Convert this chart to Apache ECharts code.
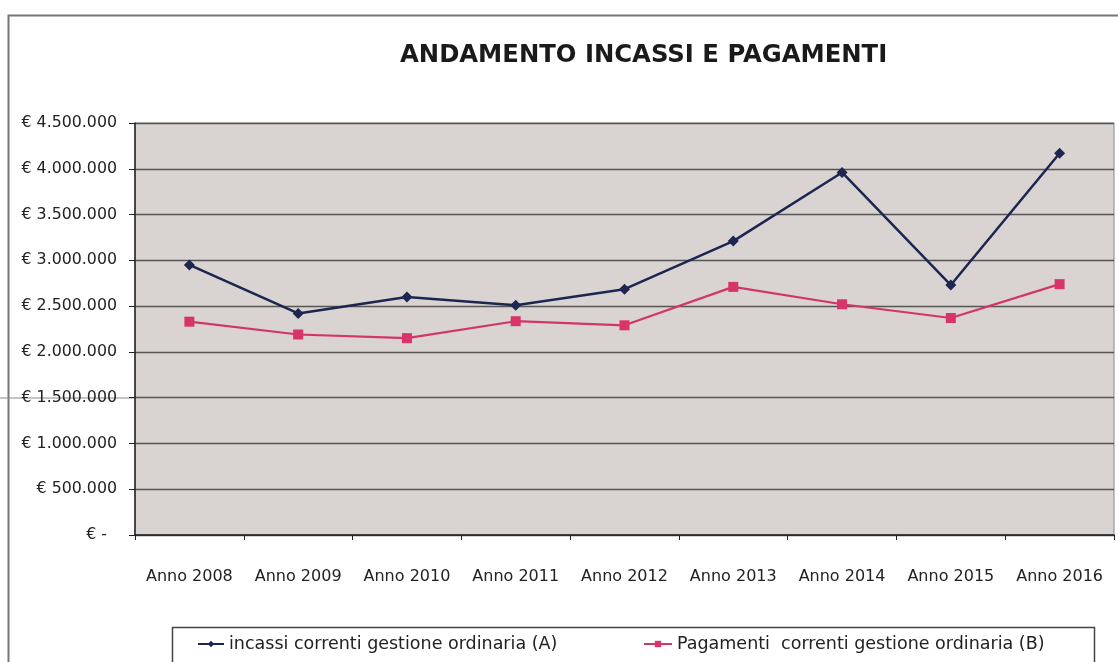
<!DOCTYPE html>
<html>
<head>
<meta charset="utf-8">
<script src="https://cdn.jsdelivr.net/npm/echarts@6/dist/echarts.min.js"></script>
<style>
html,body{margin:0;padding:0;background:#fff;}
#c{width:1118px;height:662px;}
</style>
</head>
<body>
<div id="c"></div>
<script>
var categories = ['Anno 2008','Anno 2009','Anno 2010','Anno 2011','Anno 2012','Anno 2013','Anno 2014','Anno 2015','Anno 2016'];
var incassi = [2950000, 2420000, 2600000, 2510000, 2685000, 3210000, 3960000, 2730000, 4170000];
var pagamenti = [2330000, 2190000, 2150000, 2335000, 2290000, 2710000, 2520000, 2370000, 2740000];
var seriesNames = ['incassi correnti gestione ordinaria (A)', 'Pagamenti  correnti gestione ordinaria (B)'];
var titleText = 'ANDAMENTO INCASSI E PAGAMENTI';

var chart = echarts.init(document.getElementById('c'), null, {renderer:'canvas'});
var font = 'DejaVu Sans, Liberation Sans, sans-serif';
function fmt(v){
  if (v === 0) return '€ -  ';
  var s = String(Math.round(v)).replace(/\B(?=(\d{3})+(?!\d))/g, '.');
  return '€ ' + s;
}
var legendText = {fontFamily: font, fontSize: 17.5, color: '#222'};
chart.setOption({
  backgroundColor: '#ffffff',
  animation: false,
  title: {
    text: titleText,
    left: 400,
    top: 44,
    textStyle: {fontFamily: font, fontSize: 24.3, fontWeight: 'bold', color: '#1a1a1a'},
    padding: 0,
    itemGap: 0
  },
  graphic: [
    {type:'rect', shape:{x:8.5, y:15.5, width:1130, height:700}, style:{fill:null, stroke:'#777', lineWidth:2}, silent:true, z:0},
    {type:'rect', shape:{x:172.5, y:627.5, width:922, height:60}, style:{fill:null, stroke:'#444', lineWidth:1.5}, silent:true, z:0},
    {type:'line', shape:{x1:0, y1:398, x2:135, y2:398}, style:{stroke:'#888', lineWidth:1}, silent:true, z:0}
  ],
  legend: [
    {left: 197, top: 635, itemWidth: 26, itemHeight: 8, itemGap: 3, padding: 0, textStyle: legendText, data: [seriesNames[0]]},
    {left: 643, top: 635, itemWidth: 28, itemHeight: 8, itemGap: 3, padding: 0, textStyle: legendText, data: [seriesNames[1]]}
  ],
  grid: {left: 135, right: 4, top: 123, bottom: 127, show: true, backgroundColor: '#d9d3d1', borderColor: '#888', borderWidth: 1},
  xAxis: {
    type: 'category',
    data: categories,
    boundaryGap: true,
    axisLine: {show: true, lineStyle: {color: '#222', width: 1.5}},
    axisTick: {show: true, length: 5, interval: 0, lineStyle: {color: '#222'}},
    axisLabel: {fontFamily: font, fontSize: 16, color: '#222', margin: 34, interval: 0, hideOverlap: false}
  },
  yAxis: {
    type: 'value',
    min: 0,
    max: 4500000,
    interval: 500000,
    axisLine: {show: true, lineStyle: {color: '#222', width: 1.5}},
    axisTick: {show: true, length: 6, lineStyle: {color: '#222'}},
    splitLine: {show: true, lineStyle: {color: '#555', width: 1.3}},
    axisLabel: {fontFamily: font, fontSize: 15.8, color: '#222', margin: 18, formatter: fmt}
  },
  series: [
    {
      name: seriesNames[0],
      type: 'line',
      data: incassi,
      symbol: 'diamond',
      symbolSize: 11,
      lineStyle: {color: '#1c2650', width: 2.5},
      itemStyle: {color: '#1c2650'},
      z: 3
    },
    {
      name: seriesNames[1],
      type: 'line',
      data: pagamenti,
      symbol: 'rect',
      symbolSize: 10,
      lineStyle: {color: '#d43567', width: 2.2},
      itemStyle: {color: '#d8336a'},
      z: 2
    }
  ]
});
</script>
</body>
</html>
